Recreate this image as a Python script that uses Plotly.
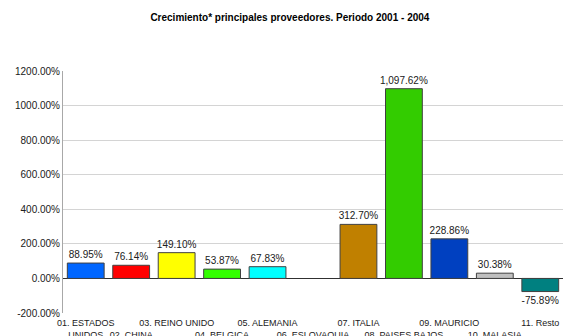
import plotly.graph_objects as go

categories = ["01. ESTADOS UNIDOS", "02. CHINA", "03. REINO UNIDO", "04. BELGICA",
              "05. ALEMANIA", "06. ESLOVAQUIA", "07. ITALIA", "08. PAISES BAJOS",
              "09. MAURICIO", "10. MALASIA", "11. Resto"]
values = [88.95, 76.14, 149.10, 53.87, 67.83, None, 312.70, 1097.62, 228.86, 30.38, -75.89]
colors = ["#0066FF", "#FF0000", "#FFFF00", "#33FF00", "#00FFFF", "#FFFFFF",
          "#C08000", "#33CC00", "#0040C0", "#C0C0C0", "#008080"]
tick_labels = ["01. ESTADOS<br>UNIDOS", "<br>02. CHINA", "03. REINO UNIDO", "<br>04. BELGICA",
               "05. ALEMANIA", "<br>06. ESLOVAQUIA", "07. ITALIA", "<br>08. PAISES BAJOS",
               "09. MAURICIO", "<br>10. MALASIA", "11. Resto"]
yticks = [-200, 0, 200, 400, 600, 800, 1000, 1200]

xs = list(range(len(categories)))
texts = ["" if v is None else f"{v:,.2f}%" for v in values]

fig = go.Figure()
fig.add_trace(go.Bar(
    x=xs, y=values, marker=dict(color=colors, line=dict(color="#404040", width=1)),
    text=texts, textposition="outside", cliponaxis=False,
    textfont=dict(family="Liberation Sans, Arial, sans-serif", size=10, color="#202020"),
    width=0.81, hoverinfo="skip",
))

fig.update_layout(
    width=564, height=336,
    margin=dict(l=63, r=1, t=71, b=23, autoexpand=False),
    paper_bgcolor="white", plot_bgcolor="white",
    showlegend=False,
    uniformtext=dict(minsize=10, mode="show"),
    title=dict(text="<b>Crecimiento* principales proveedores. Periodo 2001 - 2004</b>",
               x=0.514, xanchor="center", y=1 - 17 / 336, yanchor="middle",
               font=dict(family="Liberation Sans, Arial, sans-serif", size=10, color="#000000")),
    font=dict(family="Liberation Sans, Arial, sans-serif", size=9, color="#202020"),
)
fig.update_xaxes(
    range=[-0.5, 10.5], tickmode="array", tickvals=xs, ticktext=tick_labels,
    tickangle=0, showgrid=False, zeroline=False, showline=False, ticks="",
    ticklabelstandoff=3,
    tickfont=dict(size=9, color="#202020"), automargin=False,
)
fig.update_yaxes(
    range=[-200, 1200], tickmode="array", tickvals=yticks,
    ticktext=[f"{t:.2f}%" for t in yticks],
    showgrid=True, gridcolor="#D4D4D4", gridwidth=1,
    zeroline=True, zerolinecolor="#303030", zerolinewidth=1,
    showline=True, linecolor="#A8A8A8", linewidth=1, ticks="",
    tickfont=dict(size=10, color="#202020"), automargin=False,
)

fig.write_html("out.html", config={"displayModeBar": False},
               post_script="document.body.style.margin='0';document.body.style.overflow='hidden';")
